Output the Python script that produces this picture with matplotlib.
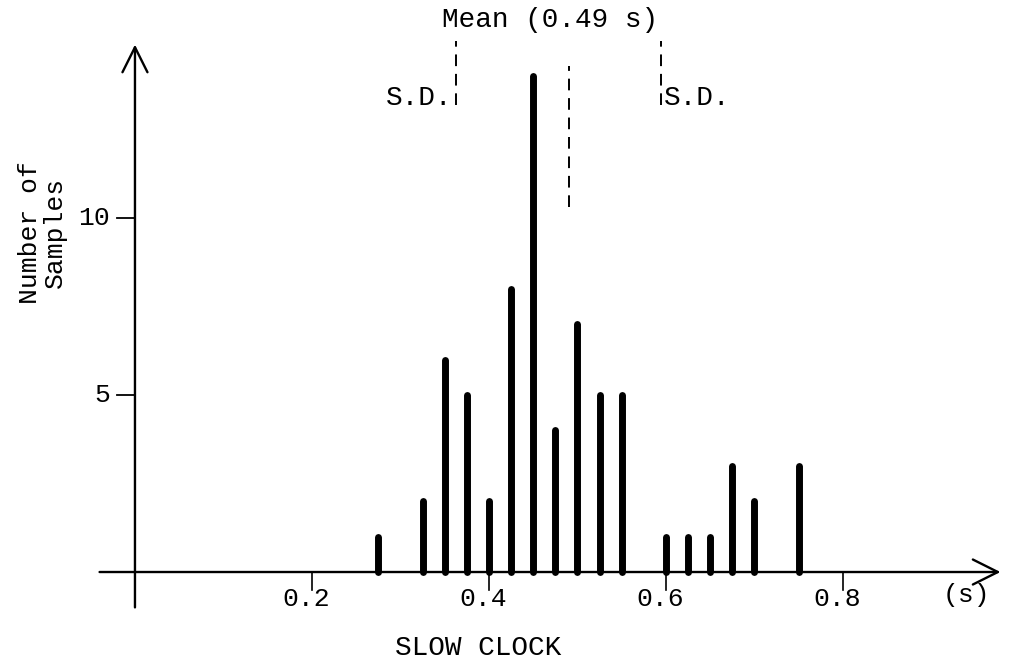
import numpy as np
import matplotlib.pyplot as plt

# histogram of sample times (s) -> number of samples
times = [0.275, 0.325, 0.35, 0.375, 0.40, 0.425, 0.45, 0.475, 0.50, 0.525, 0.55,
         0.60, 0.625, 0.65, 0.675, 0.70, 0.75]
counts = [1, 2, 6, 5, 2, 8, 14, 4, 7, 5, 5, 1, 1, 1, 3, 2, 3]

mean_val = 0.49
sd_low = 0.363
sd_high = 0.594

x_ticks = [0.2, 0.4, 0.6, 0.8]
x_tick_labels = ["0.2", "0.4", "0.6", "0.8"]
y_ticks = [5, 10]
y_tick_labels = ["5", "10"]

mono = "Liberation Mono"
fs = 20

fig = plt.figure(figsize=(10.09, 6.69), dpi=100)
ax = fig.add_axes([0, 0, 1, 1])
ax.set_xlim(-0.1525, 0.9876)
ax.set_ylim(-2.74, 16.16)
ax.axis("off")

# axes with open arrow heads
arrow = dict(arrowstyle="->", lw=1.7, color="black", mutation_scale=45,
             shrinkA=0, shrinkB=0)
ax.annotate("", xy=(0.978, 0), xytext=(-0.04, 0), arrowprops=arrow)
ax.annotate("", xy=(0, 14.9), xytext=(0, -1.0), arrowprops=arrow)

# tick marks
for t, lab in zip(x_ticks, x_tick_labels):
    ax.plot([t, t], [0, -0.5], color="black", lw=1.2)
    ax.text(t - 0.006, -0.75, lab, family=mono, fontsize=fs - 1, ha="center", va="center")
for t, lab in zip(y_ticks, y_tick_labels):
    ax.plot([-0.02, 0], [t, t], color="black", lw=1.3)
    ax.text(-0.028, t, lab, family=mono, fontsize=fs - 1, ha="right", va="center")

# bars
ax.vlines(times, 0, counts, color="black", lw=5, capstyle="round")

# mean and standard deviation markers
dash = dict(color="black", lw=1.4, linestyle=(0, (6, 4)))
ax.plot([mean_val, mean_val], [10.3, 14.3], **dash)
ax.plot([sd_low, sd_low], [13.2, 15.0], **dash)
ax.plot([sd_high, sd_high], [13.2, 15.0], **dash)

ax.text(0.469, 15.6, "Mean (0.49 s)", family=mono, fontsize=fs, ha="center", va="center")
ax.text(sd_low - 0.004, 13.4, "S.D.", family=mono, fontsize=fs, ha="right", va="center")
ax.text(sd_high + 0.004, 13.4, "S.D.", family=mono, fontsize=fs, ha="left", va="center")

ax.text(0.94, -0.65, "(s)", family=mono, fontsize=fs - 1, ha="center", va="center")
ax.text(0.388, -2.15, "SLOW CLOCK", family=mono, fontsize=fs, ha="center", va="center")
ax.text(-0.105, 9.6, "Number of\nSamples", family=mono, fontsize=fs - 1, rotation=90,
        ha="center", va="center", linespacing=1.05)

fig.savefig("out.png", dpi=100)
